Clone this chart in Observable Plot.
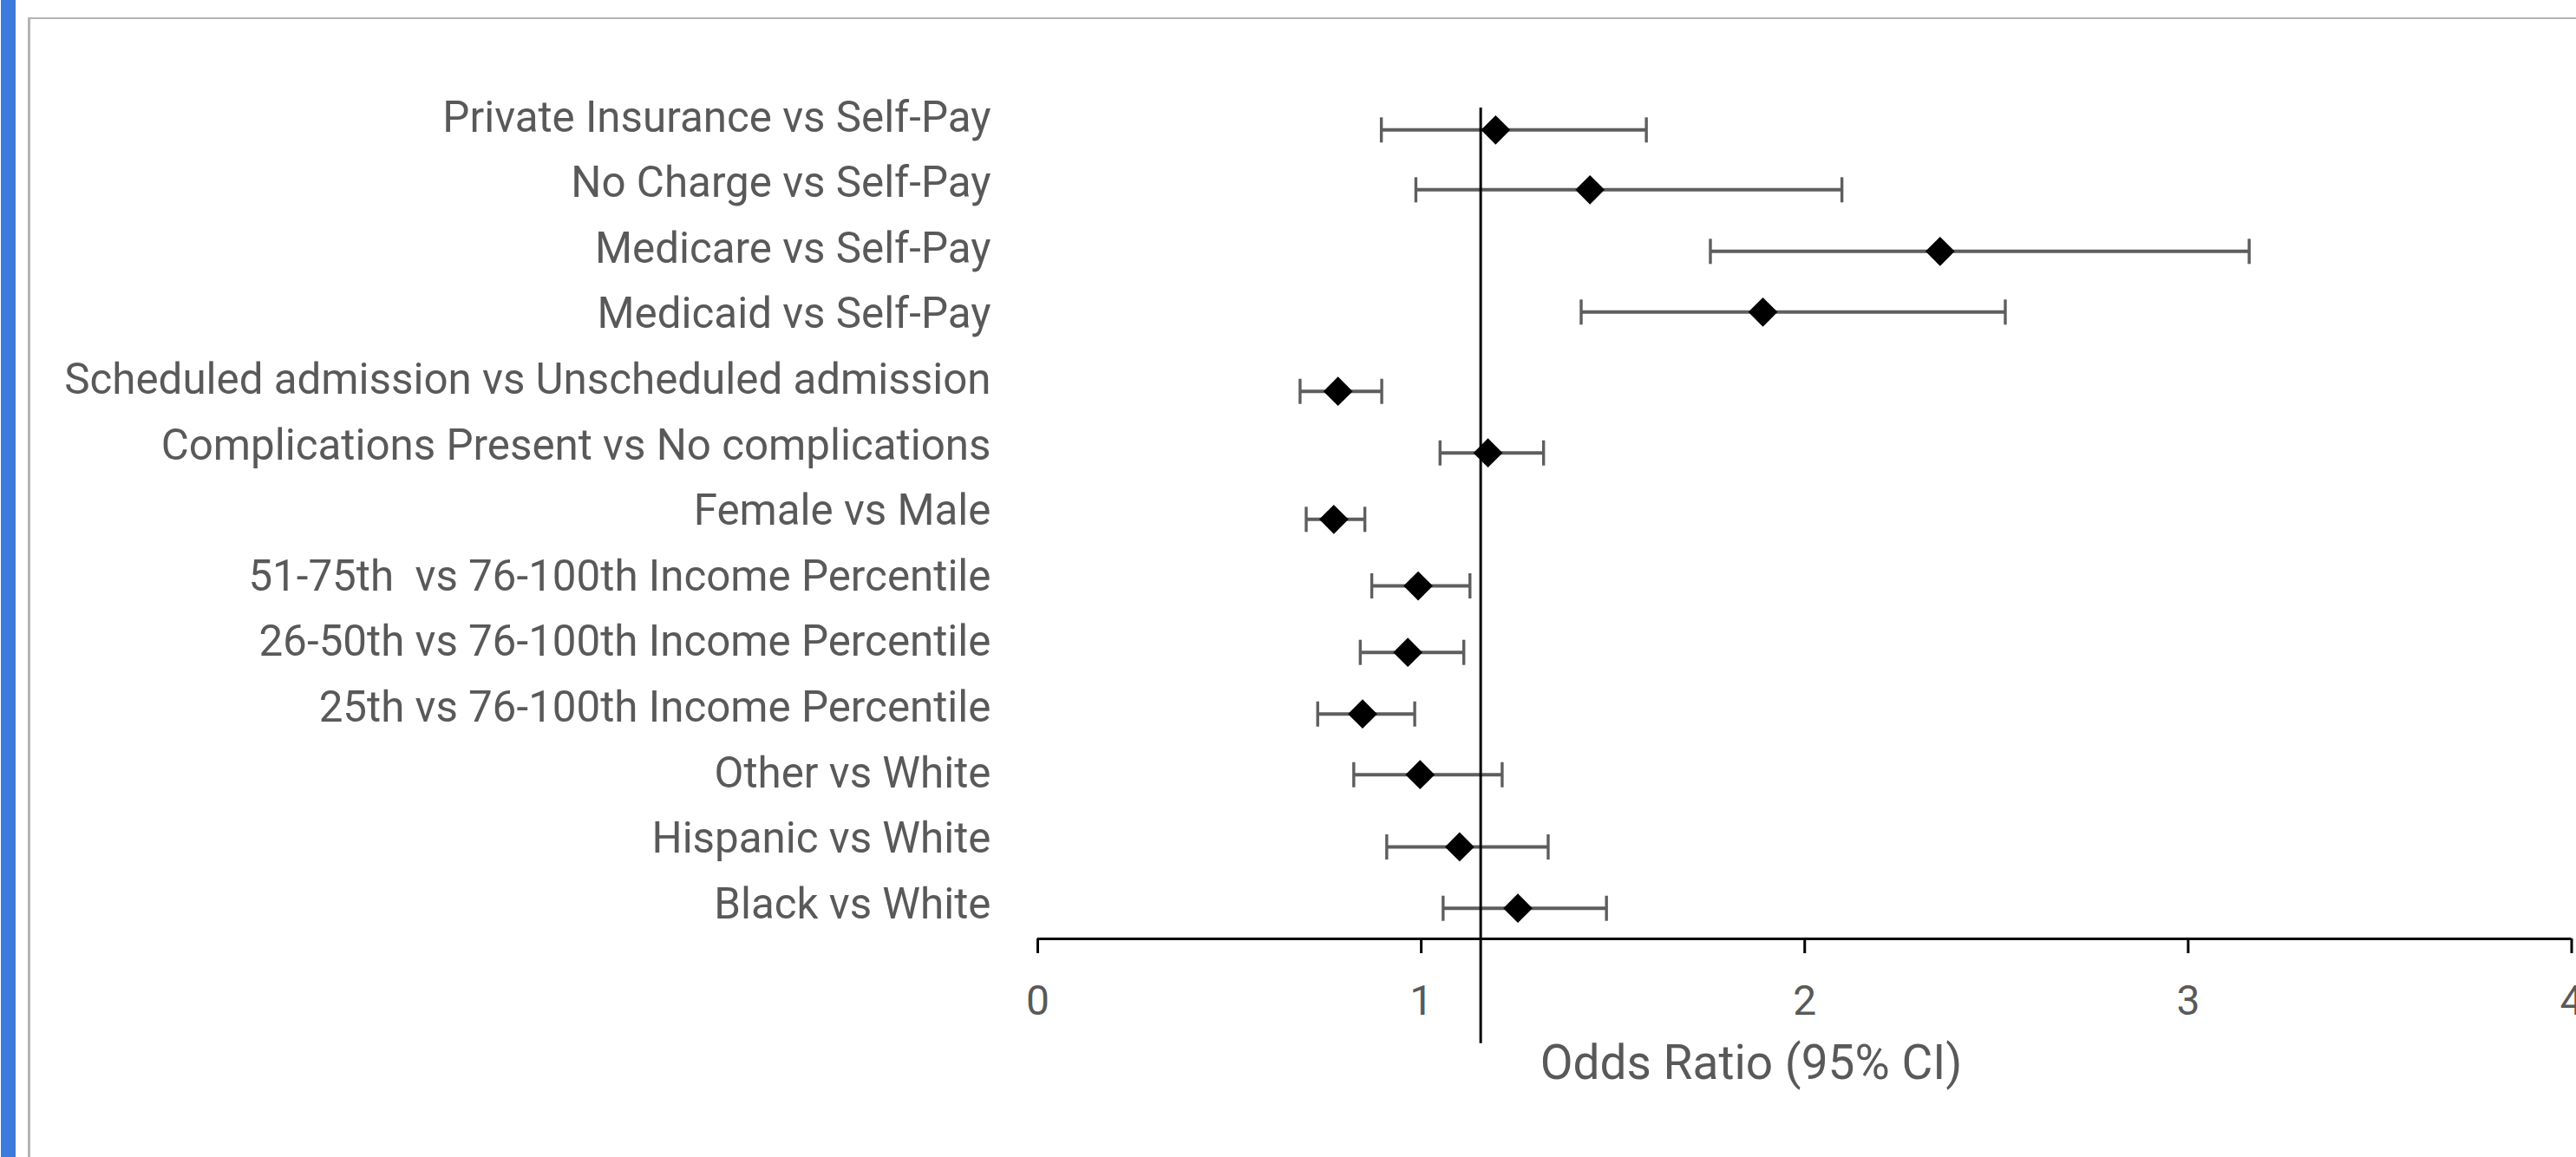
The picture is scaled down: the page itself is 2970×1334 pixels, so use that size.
<!DOCTYPE html>
<html>
<head>
<meta charset="utf-8">
<script src="https://cdn.jsdelivr.net/npm/d3@7"></script>
<script src="https://cdn.jsdelivr.net/npm/@observablehq/plot@0.6"></script>
<style>
  html, body { margin: 0; padding: 0; background: #ffffff; overflow: hidden; }
  body { width: 2970px; height: 1334px; position: relative; }
  #bluebar { position: absolute; left: 1px; top: 0; width: 17px; height: 1334px; background: #3b7bdb; }
  #frame { position: absolute; left: 32px; top: 20px; width: 2960px; height: 1330px;
           border-left: 3px solid #b4b4b4; border-top: 2px solid #b4b4b4; box-sizing: border-box; }
  #chart { position: absolute; left: 0; top: 0; }
</style>
</head>
<body>
<div id="bluebar"></div>
<div id="frame"></div>
<div id="chart"></div>
<script>
// Categories, bottom to top
const labels = [
  "Black vs White",
  "Hispanic vs White",
  "Other vs White",
  "25th vs 76-100th Income Percentile",
  "26-50th vs 76-100th Income Percentile",
  "51-75th  vs 76-100th Income Percentile",
  "Female vs Male",
  "Complications Present vs No complications",
  "Scheduled admission vs Unscheduled admission",
  "Medicaid vs Self-Pay",
  "Medicare vs Self-Pay",
  "No Charge vs Self-Pay",
  "Private Insurance vs Self-Pay"
];
// Odds ratios and 95% CI bounds
const oddsRatio = [1.252, 1.100, 0.997, 0.847, 0.965, 0.992, 0.772, 1.174, 0.783, 1.891, 2.353, 1.440, 1.194];
const ciLow     = [1.057, 0.910, 0.824, 0.730, 0.841, 0.871, 0.700, 1.049, 0.684, 1.417, 1.754, 0.986, 0.896];
const ciHigh    = [1.483, 1.331, 1.211, 0.983, 1.111, 1.127, 0.853, 1.319, 0.897, 2.523, 3.159, 2.097, 1.587];
// Vertical position of each point (in row units, label rows are 0..12)
const pointPos  = [-0.056, 0.880, 1.981, 2.907, 3.847, 4.861, 5.876, 6.889, 7.828, 9.037, 9.963, 10.902, 11.815];
// Axis setup
const xTicks = [0, 1, 2, 3, 4];
const xDomain = [0, 4];
const yDomain = [-0.5225, 12.15];
const labelRows = labels.map((_, i) => i);
// Reference line
const refOR = 1.155;
const refTop = 12.15;
const refBottom = -2.12;
const xTitle = "Odds Ratio (95% CI)";

const rows = labels.map((label, i) => ({
  label, or: oddsRatio[i], lo: ciLow[i], hi: ciHigh[i], pos: pointPos[i]
}));

const capSymbol = {
  draw(context, size) {
    const r = Math.sqrt(size / Math.PI);
    context.moveTo(0, -r);
    context.lineTo(0, r);
  }
};

const chart = Plot.plot({
  width: 2970,
  height: 1290,
  marginLeft: 1196,
  marginRight: 5.5,
  marginTop: 124,
  marginBottom: 208,
  style: { fontFamily: "Roboto, 'Liberation Sans', sans-serif", background: "transparent", color: "#595959", overflow: "hidden" },
  x: { domain: xDomain, type: "linear" },
  y: { domain: yDomain, type: "linear" },
  marks: [
    Plot.ruleY(rows, { y: "pos", x1: "lo", x2: "hi", stroke: "#5e5e5e", strokeWidth: 4 }),
    Plot.dot(rows, { x: "lo", y: "pos", symbol: capSymbol, r: 14.5, fill: "none", stroke: "#5e5e5e", strokeWidth: 3.4 }),
    Plot.dot(rows, { x: "hi", y: "pos", symbol: capSymbol, r: 14.5, fill: "none", stroke: "#5e5e5e", strokeWidth: 3.4 }),
    Plot.ruleX([refOR], { x: d => d, y1: refTop, y2: refBottom, stroke: "black", strokeWidth: 3 }),
    Plot.dot(rows, { x: "or", y: "pos", symbol: "diamond2", r: 15.2, fill: "black", stroke: "none" }),
    Plot.ruleY([yDomain[0]], { stroke: "black", strokeWidth: 3.2 }),
    Plot.axisX({ ticks: xTicks, tickFormat: d => String(d), tickSize: 17, tickPadding: 36, stroke: "black", strokeWidth: 3, fill: "#595959", fontSize: 48, label: null }),
    Plot.axisY({ ticks: labelRows, tickFormat: i => labels[i], tickSize: 0, tickPadding: 54, fill: "#595959", fontSize: 49.3, label: null }),
    Plot.text([xTitle], { text: d => d, frameAnchor: "bottom", dx: -61.75, dy: 161.5, fontSize: 55, fill: "#595959" })
  ]
});
document.getElementById("chart").appendChild(chart);
</script>
</body>
</html>
